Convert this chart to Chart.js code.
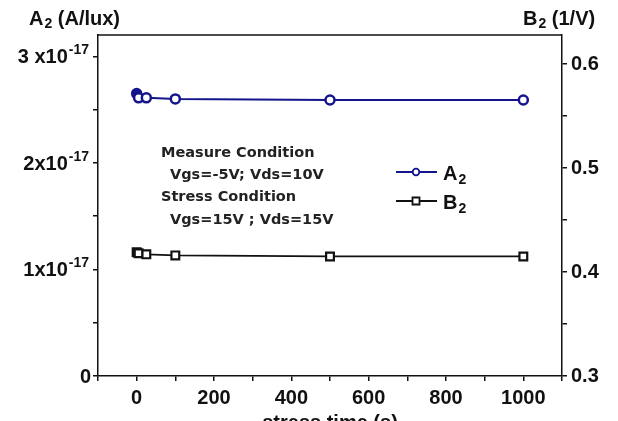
<!DOCTYPE html>
<html>
<head>
<meta charset="utf-8">
<script src="https://cdn.jsdelivr.net/npm/chart.js@4.4.1/dist/chart.umd.min.js"></script>
<style>
  html, body { margin: 0; padding: 0; background: #ffffff; }
  #wrap { width: 618px; height: 421px; }
</style>
</head>
<body>
<div id="wrap"><canvas id="stressChart" width="618" height="421"></canvas></div>
<script>
// stress time in seconds
const stressTime = [0, 5, 25, 100, 500, 1000];
// A2 in units of 1e-17 A/lux
const a2Values = [2.65, 2.61, 2.61, 2.60, 2.59, 2.59];
// B2 in 1/V
const b2Values = [0.419, 0.418, 0.417, 0.416, 0.415, 0.415];

const leftTicks = [0, 1, 2, 3];
const leftTickMain = ['0', '1x10', '2x10', '3 x10'];
const leftTickExp = ['', '-17', '-17', '-17'];

const notes = [
    { text: 'Measure Condition', indent: 0 },
    { text: 'Vgs=-5V; Vds=10V', indent: 9 },
    { text: 'Stress Condition', indent: 0 },
    { text: 'Vgs=15V ; Vds=15V', indent: 9 }
];

const NAVY = '#14148c';
const INK = '#111111';
const BOLD = 'bold 20px "Liberation Sans", Arial, sans-serif';

function pts(ys) {
    return stressTime.map((t, i) => ({ x: t, y: ys[i] }));
}

// text with a raised or lowered small part
function drawScript(ctx, x, y, base, small, offset, align) {
    ctx.font = BOLD;
    const wb = ctx.measureText(base).width;
    ctx.font = 'bold 14px "Liberation Sans", Arial, sans-serif';
    const ws = ctx.measureText(small).width;
    let x0 = align === 'right' ? x - wb - ws - 1 : x;
    ctx.textAlign = 'left';
    ctx.font = BOLD;
    ctx.fillText(base, x0, y);
    ctx.font = 'bold 14px "Liberation Sans", Arial, sans-serif';
    ctx.fillText(small, x0 + wb + 1, y + offset);
    return x0 + wb + ws + 1;
}

const extras = {
    id: 'extras',
    afterDraw(chart) {
        const ctx = chart.ctx;
        const area = chart.chartArea;
        const yA = chart.scales.yA;
        ctx.save();
        ctx.fillStyle = INK;
        ctx.strokeStyle = INK;

        // top frame line
        ctx.lineWidth = 1.5;
        ctx.beginPath();
        ctx.moveTo(area.left, area.top);
        ctx.lineTo(area.right, area.top);
        ctx.stroke();

        // left tick labels with exponent
        ctx.textBaseline = 'alphabetic';
        leftTicks.forEach((v, i) => {
            const py = yA.getPixelForValue(v) + 7;
            if (leftTickExp[i]) {
                drawScript(ctx, 89, py, leftTickMain[i], leftTickExp[i], -9, 'right');
            } else {
                ctx.font = BOLD;
                ctx.textAlign = 'right';
                ctx.fillText(leftTickMain[i], 91, py);
            }
        });

        // axis titles
        let x = drawScript(ctx, 29, 25, 'A', '2', 3, 'left');
        ctx.font = BOLD;
        ctx.fillText(' (A/lux)', x, 25);
        x = drawScript(ctx, 523, 25, 'B', '2', 3, 'left');
        ctx.font = BOLD;
        ctx.fillText(' (1/V)', x, 25);

        ctx.textAlign = 'center';
        ctx.fillText('stress time (s)', (area.left + area.right) / 2, 429);

        // measurement notes
        ctx.fillStyle = '#222222';
        ctx.textAlign = 'left';
        ctx.font = 'bold 14.5px "DejaVu Sans", sans-serif';
        notes.forEach((n, i) => {
            ctx.fillText(n.text, 161 + n.indent, 157 + i * 22.2);
        });

        // legend
        chart.data.datasets.forEach((ds, i) => {
            const ly = 172 + i * 29;
            ctx.strokeStyle = ds.borderColor;
            ctx.lineWidth = 1.8;
            ctx.beginPath();
            ctx.moveTo(396, ly);
            ctx.lineTo(437, ly);
            ctx.stroke();
            ctx.fillStyle = '#ffffff';
            ctx.lineWidth = 1.8;
            ctx.beginPath();
            if (ds.pointStyle === 'rect') {
                ctx.rect(412.5, ly - 3.5, 7, 7);
            } else {
                ctx.arc(416, ly, 3.3, 0, Math.PI * 2);
            }
            ctx.fill();
            ctx.stroke();
            ctx.fillStyle = INK;
            drawScript(ctx, 443, ly + 8, ds.label.charAt(0), ds.label.charAt(1), 4, 'left');
        });
        ctx.restore();
    }
};

const scaleFont = { family: '"Liberation Sans", Arial, sans-serif', size: 20, weight: 'bold' };

new Chart(document.getElementById('stressChart'), {
    type: 'line',
    data: {
        datasets: [
            {
                label: 'A2',
                data: pts(a2Values),
                yAxisID: 'yA',
                borderColor: NAVY,
                borderWidth: 2,
                pointStyle: 'circle',
                pointRadius: 4.5,
                pointBorderWidth: 2.5,
                pointBackgroundColor: stressTime.map((t, i) => i === 0 ? NAVY : '#ffffff'),
                pointBorderColor: NAVY,
                tension: 0
            },
            {
                label: 'B2',
                data: pts(b2Values),
                yAxisID: 'yB',
                borderColor: INK,
                borderWidth: 1.8,
                pointStyle: 'rect',
                pointRadius: 5.5,
                pointBorderWidth: 2.2,
                pointBackgroundColor: stressTime.map((t, i) => i === 0 ? INK : '#ffffff'),
                pointBorderColor: INK,
                tension: 0
            }
        ]
    },
    options: {
        responsive: false,
        animation: false,
        layout: { padding: { top: 35, left: 0, right: 0, bottom: 0 } },
        plugins: {
            legend: { display: false },
            tooltip: { enabled: false }
        },
        scales: {
            x: {
                type: 'linear',
                min: -100,
                max: 1100,
                afterFit: (s) => { s.height = 45; },
                ticks: {
                    stepSize: 100,
                    autoSkip: false,
                    maxRotation: 0,
                    padding: 5,
                    color: INK,
                    font: scaleFont,
                    callback: (v) => (v >= 0 && v % 200 === 0) ? String(v) : ''
                },
                grid: { drawOnChartArea: false, color: INK, tickLength: 5, lineWidth: 1.5 },
                border: { color: INK, width: 1.5 }
            },
            yA: {
                position: 'left',
                min: 0,
                max: 3.2,
                afterFit: (s) => { s.width = 98; },
                ticks: {
                    stepSize: 0.5,
                    includeBounds: false,
                    callback: () => ''
                },
                grid: { drawOnChartArea: false, color: INK, tickLength: 5, lineWidth: 1.5 },
                border: { color: INK, width: 1.5 }
            },
            yB: {
                position: 'right',
                min: 0.3,
                max: 0.628,
                afterFit: (s) => { s.width = 56; },
                ticks: {
                    stepSize: 0.05,
                    includeBounds: false,
                    autoSkip: false,
                    padding: 4,
                    color: INK,
                    font: scaleFont,
                    callback: (v) => Math.round(v * 100) % 10 === 0 ? v.toFixed(1) : ''
                },
                grid: { drawOnChartArea: false, color: INK, tickLength: 5, lineWidth: 1.5 },
                border: { color: INK, width: 1.5 }
            }
        }
    },
    plugins: [extras]
});
</script>
</body>
</html>
